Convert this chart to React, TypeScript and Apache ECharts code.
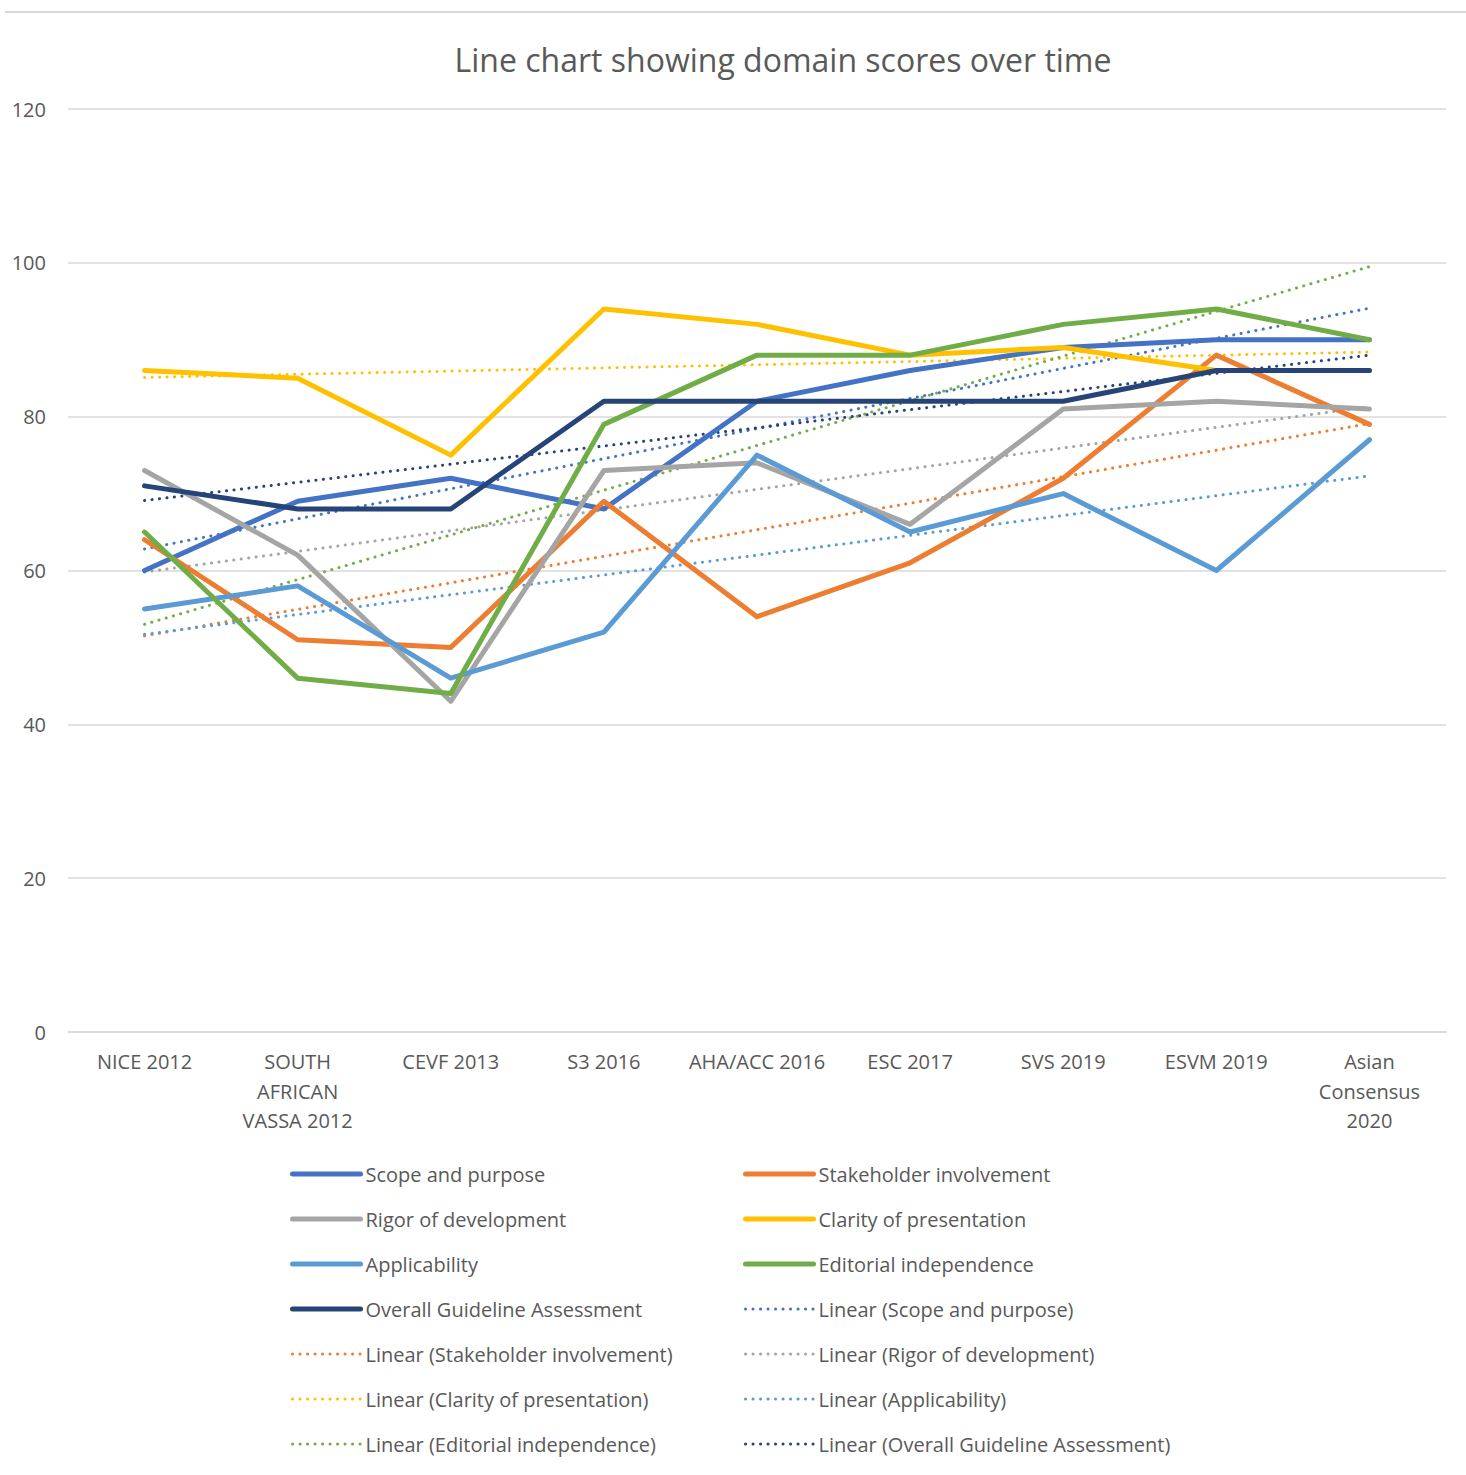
import React, { useEffect, useRef } from "react";
import * as echarts from "echarts";

const categories = [
  "NICE 2012",
  "SOUTH\nAFRICAN\nVASSA 2012",
  "CEVF 2013",
  "S3 2016",
  "AHA/ACC 2016",
  "ESC 2017",
  "SVS 2019",
  "ESVM 2019",
  "Asian\nConsensus\n2020",
];

const seriesNames = [
  "Scope and purpose",
  "Stakeholder involvement",
  "Rigor of development",
  "Clarity of presentation",
  "Applicability",
  "Editorial independence",
  "Overall Guideline Assessment",
];

const scope = [60, 69, 72, 68, 82, 86, 89, 90, 90];
const stakeholder = [64, 51, 50, 69, 54, 61, 72, 88, 79];
const rigor = [73, 62, 43, 73, 74, 66, 81, 82, 81];
const clarity = [86, 85, 75, 94, 92, 88, 89, 86, 86];
const applicability = [55, 58, 46, 52, 75, 65, 70, 60, 77];
const editorial = [65, 46, 44, 79, 88, 88, 92, 94, 90];
const overall = [71, 68, 68, 82, 82, 82, 82, 86, 86];

// Linear trendline endpoints (first and last category)
const trendStart = [62.8, 51.5, 59.8, 85.1, 51.7, 53.0, 69.1];
const trendEnd = [94.1, 79.1, 81.3, 88.4, 72.3, 99.5, 88.0];

const yTicks = [0, 20, 40, 60, 80, 100, 120];

const colors = ["#4472C4", "#ED7D31", "#A5A5A5", "#FFC000", "#5B9BD5", "#70AD47", "#264478"];

const FONT = "'Open Sans', Lato, sans-serif";
const TXT = "#595959";

export default function App() {
  const ref = useRef<HTMLDivElement>(null);
  useEffect(() => {
    document.body.style.margin = "0";
    const chart = echarts.init(ref.current!, undefined, { renderer: "svg" });
    const values = [scope, stakeholder, rigor, clarity, applicability, editorial, overall];
    const trendSeries = seriesNames.map((n, i) => ({
      name: `Linear (${n})`,
      type: "line",
      symbol: "none",
      z: 1,
      data: [
        [0, trendStart[i]],
        [categories.length - 1, trendEnd[i]],
      ],
      lineStyle: { color: colors[i], width: 3, type: [0.1, 7.4], cap: "round" },
      itemStyle: { color: colors[i] },
    }));
    const mainSeries = seriesNames.map((n, i) => ({
      name: n,
      type: "line",
      symbol: "none",
      z: 2,
      data: values[i],
      lineStyle: { color: colors[i], width: 5, cap: "round", join: "round" },
      itemStyle: { color: colors[i] },
    }));
    const order = [
      ...seriesNames,
      ...seriesNames.map((n) => `Linear (${n})`),
    ];
    const leftCol = order.filter((_, i) => i % 2 === 0);
    const rightCol = order.filter((_, i) => i % 2 === 1);
    const legendCommon = {
      orient: "vertical",
      top: 1164,
      height: 320,
      itemWidth: 68,
      itemHeight: 14,
      itemGap: 25,
      padding: 0,
      itemStyle: { opacity: 0 },
      lineStyle: { width: "inherit", type: "inherit", cap: "round" },
      textStyle: { fontFamily: FONT, fontSize: 20, color: TXT, padding: [0, 0, 0, 0] },
    };
    chart.setOption({
      animation: false,
      backgroundColor: "#ffffff",
      title: {
        text: "Line chart showing domain scores over time",
        left: 778,
        top: 38,
        textAlign: "center",
        textStyle: { fontFamily: FONT, fontSize: 32, fontWeight: "normal", color: TXT },
      },
      graphic: [
        {
          type: "line",
          shape: { x1: 5, y1: 12, x2: 1466, y2: 12 },
          style: { stroke: "#D9D9D9", lineWidth: 2 },
        },
      ],
      grid: { left: 68, right: 20, top: 109, bottom: 443, containLabel: false },
      xAxis: {
        type: "category",
        data: categories,
        boundaryGap: true,
        axisLine: { lineStyle: { color: "#D9D9D9", width: 1.5 } },
        axisTick: { show: false },
        axisLabel: {
          fontFamily: FONT,
          fontSize: 20,
          color: TXT,
          margin: 15,
          lineHeight: 29.5,
          interval: 0,
          verticalAlign: "top",
        },
      },
      yAxis: {
        type: "value",
        min: yTicks[0],
        max: yTicks[yTicks.length - 1],
        interval: 20,
        axisLine: { show: false },
        axisTick: { show: false },
        splitLine: { lineStyle: { color: "#D9D9D9", width: 1.5 } },
        axisLabel: { fontFamily: FONT, fontSize: 20, color: TXT, margin: 22 },
      },
      legend: [
        { ...legendCommon, left: 290, data: leftCol },
        { ...legendCommon, left: 743, data: rightCol },
      ],
      series: [...trendSeries, ...mainSeries],
    } as any);
    return () => chart.dispose();
  }, []);
  return <div ref={ref} style={{ width: 1466, height: 1475 }} />;
}
